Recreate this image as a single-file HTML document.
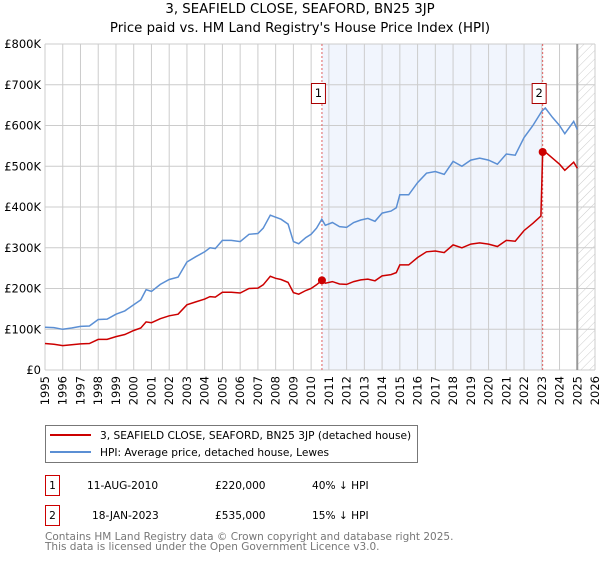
<!DOCTYPE html>
<html><head><meta charset="utf-8"><style>
body{margin:0;background:#fff;font-family:"DejaVu Sans","Liberation Sans",sans-serif;}
svg text{font-family:"DejaVu Sans","Liberation Sans",sans-serif;}
</style></head><body>
<svg id="c" width="600" height="560" xmlns="http://www.w3.org/2000/svg">
<defs><pattern id="hatch" width="6" height="6" patternUnits="userSpaceOnUse" patternTransform="rotate(45)"><line x1="0" y1="0" x2="0" y2="6" stroke="#ccc" stroke-width="1"/></pattern></defs>
<text x="300" y="13" text-anchor="middle" font-size="13.3">3, SEAFIELD CLOSE, SEAFORD, BN25 3JP</text>
<text x="300" y="32" text-anchor="middle" font-size="13.3">Price paid vs. HM Land Registry's House Price Index (HPI)</text>
<g id="plot"></g>
<g>
<rect x="45.5" y="425.5" width="372" height="37" fill="#fff" stroke="#777"/>
<line x1="50" y1="435" x2="91" y2="435" stroke="#cc0000" stroke-width="2"/>
<text x="100" y="439" font-size="10.6">3, SEAFIELD CLOSE, SEAFORD, BN25 3JP (detached house)</text>
<line x1="50" y1="452" x2="91" y2="452" stroke="#5b8fd4" stroke-width="2"/>
<text x="100" y="456" font-size="10.6">HPI: Average price, detached house, Lewes</text>
</g>
<g>
<rect x="45.5" y="475.5" width="14" height="20" fill="#fff" stroke="#cc0000"/>
<text x="52.5" y="489" text-anchor="middle" font-size="10.6">1</text>
<text x="87" y="489" font-size="10.6">11-AUG-2010</text>
<text x="215" y="489" font-size="10.6">£220,000</text>
<text x="312" y="489" font-size="10.6">40% ↓ HPI</text>
</g>
<g>
<rect x="45.5" y="505.5" width="14" height="20" fill="#fff" stroke="#cc0000"/>
<text x="52.5" y="519" text-anchor="middle" font-size="10.6">2</text>
<text x="92" y="519" font-size="10.6">18-JAN-2023</text>
<text x="215" y="519" font-size="10.6">£535,000</text>
<text x="312" y="519" font-size="10.6">15% ↓ HPI</text>
</g>
<text x="45" y="540" font-size="10.5" fill="#777">Contains HM Land Registry data © Crown copyright and database right 2025.</text>
<text x="45" y="550" font-size="10.5" fill="#777">This data is licensed under the Open Government Licence v3.0.</text>
</svg>
<script>
const yTicks=[0,100,200,300,400,500,600,700,800];
const yTickLabels=["£0","£100K","£200K","£300K","£400K","£500K","£600K","£700K","£800K"];
const xYears=[1995,1996,1997,1998,1999,2000,2001,2002,2003,2004,2005,2006,2007,2008,2009,2010,2011,2012,2013,2014,2015,2016,2017,2018,2019,2020,2021,2022,2023,2024,2025,2026];
const hpiT=[1995,1995.5,1996,1996.5,1997,1997.5,1998,1998.5,1999,1999.5,2000,2000.4,2000.7,2001,2001.5,2002,2002.5,2003,2003.5,2004,2004.3,2004.6,2005,2005.5,2006,2006.5,2007,2007.3,2007.7,2008,2008.3,2008.7,2009,2009.3,2009.7,2010,2010.3,2010.6,2010.8,2011.2,2011.6,2012,2012.4,2012.8,2013.2,2013.6,2014,2014.5,2014.8,2015,2015.5,2016,2016.5,2017,2017.5,2018,2018.5,2019,2019.5,2020,2020.5,2021,2021.5,2022,2022.5,2023,2023.2,2023.6,2024,2024.3,2024.8,2025];
const hpiV=[105,104,100,103,107,108,124,125,137,145,160,172,197,193,210,222,228,265,278,290,300,298,318,318,315,333,335,348,380,375,370,358,315,310,325,333,348,370,355,362,352,350,362,368,372,365,385,390,398,430,430,460,483,487,480,512,500,515,520,515,505,530,527,570,600,635,643,620,600,580,610,590];
const ppT=[1995,1995.5,1996,1996.5,1997,1997.5,1998,1998.5,1999,1999.5,2000,2000.4,2000.7,2001,2001.5,2002,2002.5,2003,2003.5,2004,2004.3,2004.6,2005,2005.5,2006,2006.5,2007,2007.3,2007.7,2008,2008.3,2008.7,2009,2009.3,2009.7,2010,2010.3,2010.6,2010.8,2011.2,2011.6,2012,2012.4,2012.8,2013.2,2013.6,2014,2014.5,2014.8,2015,2015.5,2016,2016.5,2017,2017.5,2018,2018.5,2019,2019.5,2020,2020.5,2021,2021.5,2022,2022.5,2022.95,2023.05,2023.2,2023.6,2024,2024.3,2024.8,2025];
const ppV=[65,63,60,62,64,65,75,75,82,87,97,103,118,116,126,133,137,160,167,174,180,179,191,191,189,200,201,209,230,225,222,215,190,186,195,200,209,220,213,217,211,210,217,221,223,219,231,234,239,258,258,276,290,292,288,307,300,309,312,309,303,318,316,342,360,378,535,535,520,505,490,510,495];
const sales=[{t:2010.61,v:220,label:"1"},{t:2023.05,v:535,label:"2"}];
const X0=45,X1=595,Y0=370,Y1=44;
const xs=t=>X0+(t-1995)*(X1-X0)/31;
const ys=v=>Y0-v*(Y0-Y1)/800;
const NS="http://www.w3.org/2000/svg";
const g=document.getElementById('plot');
function mk(tag,attrs,parent){const e=document.createElementNS(NS,tag);for(const k in attrs)e.setAttribute(k,attrs[k]);(parent||g).appendChild(e);return e;}
let sh=mk('rect',{x:xs(sales[0].t),y:Y1,width:xs(sales[1].t)-xs(sales[0].t),height:Y0-Y1,fill:'#eef2fc',opacity:0.8});


let ht=mk('rect',{x:xs(2025),y:Y1,width:X1-xs(2025),height:Y0-Y1,fill:'url(#hatch)'});


yTicks.forEach((v,i)=>{
 let l=mk('line',{x1:X0,x2:X1,y1:ys(v),y2:ys(v),stroke:'#ccc','stroke-width':1});
 
 
 let t=mk('text',{x:X0-4,y:ys(v)+4,'text-anchor':'end','font-size':11.5});
 
 
 t.textContent=yTickLabels[i];
});
xYears.forEach(yr=>{
 let l=mk('line',{x1:xs(yr),x2:xs(yr),y1:Y1,y2:Y0,stroke:'#ccc','stroke-width':1});
 
 
 let t=mk('text',{x:0,y:0,'text-anchor':'end','font-size':11.5,transform:`translate(${xs(yr)+4},${Y0+6}) rotate(-90)`});
 
 
 t.textContent=yr;
});
let el=mk('line',{x1:xs(2025),x2:xs(2025),y1:Y1,y2:Y0,stroke:'#999','stroke-width':2});


sales.forEach(s=>{
 let l=mk('line',{x1:xs(s.t),x2:xs(s.t),y1:Y1,y2:Y0,stroke:'#e06060','stroke-width':1,'stroke-dasharray':'2,2'});
 
 
});
const path=(T,V)=>T.map((t,i)=>(i?'L':'M')+xs(t).toFixed(1)+','+ys(V[i]).toFixed(1)).join('');
let hp=mk('path',{d:path(hpiT,hpiV),fill:'none',stroke:'#5b8fd4','stroke-width':1.5});


let pp=mk('path',{d:path(ppT,ppV),fill:'none',stroke:'#cc0000','stroke-width':1.5});


sales.forEach(s=>{
 let c=mk('circle',{cx:xs(s.t),cy:ys(s.v),r:4,fill:'#cc0000'});
 
 
 let b=mk('rect',{x:xs(s.t)-10.5,y:83.5,width:14,height:20,fill:'#fff',stroke:'#aa0000'});
 
 
 let t=mk('text',{x:xs(s.t)-3.5,y:97,'text-anchor':'middle','font-size':11.5});
 
 
 t.textContent=s.label;
});
</script>
</body></html>
